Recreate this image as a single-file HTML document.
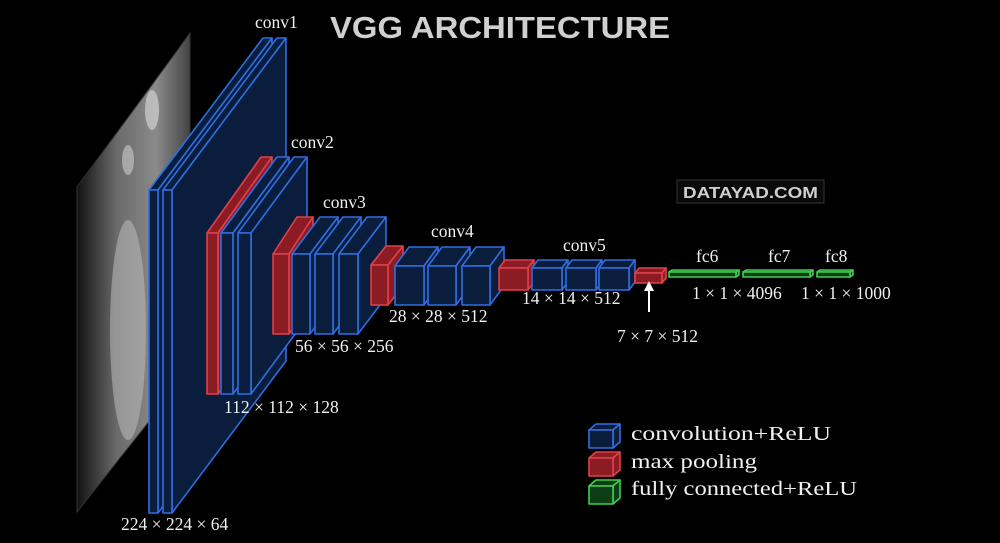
<!DOCTYPE html>
<html><head><meta charset="utf-8">
<style>
html,body{margin:0;padding:0;background:#000;}
svg{display:block;}
.lbl{font-family:"Liberation Serif",serif;font-size:17.5px;fill:#f0f0f0;}
.leg{font-family:"Liberation Serif",serif;font-size:20px;fill:#f0f0f0;}
</style></head>
<body>
<svg id="s" width="1000" height="543" viewBox="0 0 1000 543" xmlns="http://www.w3.org/2000/svg">
<defs>
<linearGradient id="img" x1="0" y1="0" x2="1" y2="0">
<stop offset="0" stop-color="#111"/><stop offset="0.35" stop-color="#6a6a6a"/><stop offset="0.7" stop-color="#8a8a8a"/><stop offset="1" stop-color="#444"/>
</linearGradient>
</defs>
<rect width="1000" height="543" fill="#000"/>
<polygon points="77,187 190,33 190,370 77,512" fill="url(#img)" stroke="#333" stroke-width="1"/>
<ellipse cx="128" cy="330" rx="18" ry="110" fill="#bbb" opacity="0.55"/>
<ellipse cx="152" cy="110" rx="7" ry="20" fill="#ddd" opacity="0.6"/>
<ellipse cx="128" cy="160" rx="6" ry="15" fill="#ddd" opacity="0.5"/>
<g id="g"></g>
<text x="330" y="38" textLength="340" lengthAdjust="spacingAndGlyphs" style="font-family:'Liberation Sans',sans-serif;font-weight:bold;font-size:31px;fill:#d0d0d0;">VGG ARCHITECTURE</text>
<rect x="677" y="180" width="147" height="23" fill="#0a0a0a" stroke="#333" stroke-width="1"/>
<text x="683" y="198" textLength="135" lengthAdjust="spacingAndGlyphs" style="font-family:'Liberation Sans',sans-serif;font-weight:bold;font-size:16px;fill:#cfcfcf;">DATAYAD.COM</text>
<text class="lbl" x="255" y="28">conv1</text>
<text class="lbl" x="291" y="148">conv2</text>
<text class="lbl" x="323" y="208">conv3</text>
<text class="lbl" x="431" y="237">conv4</text>
<text class="lbl" x="563" y="251">conv5</text>
<text class="lbl" x="696" y="262">fc6</text>
<text class="lbl" x="768" y="262">fc7</text>
<text class="lbl" x="825" y="262">fc8</text>
<text class="lbl" x="121" y="530">224 × 224 × 64</text>
<text class="lbl" x="224" y="413">112 × 112 × 128</text>
<text class="lbl" x="295" y="352">56 × 56 × 256</text>
<text class="lbl" x="389" y="322">28 × 28 × 512</text>
<text class="lbl" x="522" y="304">14 × 14 × 512</text>
<text class="lbl" x="617" y="342">7 × 7 × 512</text>
<text class="lbl" x="692" y="299">1 × 1 × 4096</text>
<text class="lbl" x="801" y="299">1 × 1 × 1000</text>
<line x1="649" y1="312" x2="649" y2="287" stroke="#fff" stroke-width="2"/>
<polygon points="649,281 644,291 654,291" fill="#fff"/>
<text class="leg" x="631" y="440" textLength="200" lengthAdjust="spacingAndGlyphs">convolution+ReLU</text>
<text class="leg" x="631" y="468" textLength="126" lengthAdjust="spacingAndGlyphs">max pooling</text>
<text class="leg" x="631" y="495" textLength="226" lengthAdjust="spacingAndGlyphs">fully connected+ReLU</text>
</svg>
<script>
var g=document.getElementById('g');
var C={b:['#0b1d3d','#2f6ee0'],r:['#8c1c24','#e0404a'],gr:['#0d3d14','#3fcf50']};
function P(pts,f,s){var p=document.createElementNS('http://www.w3.org/2000/svg','polygon');p.setAttribute('points',pts.map(function(a){return a.join(',')}).join(' '));p.setAttribute('fill',f);p.setAttribute('stroke',s);p.setAttribute('stroke-width','1.6');p.setAttribute('stroke-linejoin','round');g.appendChild(p);}
function cube(x,y,w,h,dx,dy,c){var f=C[c][0],s=C[c][1];
P([[x,y],[x+dx,y+dy],[x+w+dx,y+dy],[x+w,y]],f,s);
P([[x+w,y],[x+w+dx,y+dy],[x+w+dx,y+h+dy],[x+w,y+h]],f,s);
P([[x,y],[x+w,y],[x+w,y+h],[x,y+h]],f,s);}
cube(149,190,9,323,114,-152,'b');
cube(163,190,9,323,114,-152,'b');
cube(207,233,11,161,54,-76,'r');
cube(221,233,12,161,56,-76,'b');
cube(238,233,13,161,56,-76,'b');
cube(273,254,16,80,24,-37,'r');
cube(292,254,18,80,28,-37,'b');
cube(315,254,18,80,28,-37,'b');
cube(339,254,19,80,28,-37,'b');
cube(371,265,17,40,15,-19,'r');
cube(395,266,29,39,14,-19,'b');
cube(428,266,28,39,14,-19,'b');
cube(462,266,28,39,14,-19,'b');
cube(499,268,29,22,6,-8,'r');
cube(532,268,30,22,6,-8,'b');
cube(566,268,30,22,6,-8,'b');
cube(599,268,30,22,6,-8,'b');
cube(635,273,27,10,4,-5,'r');
cube(669,272,67,5,3,-2,'gr');
cube(743,272,67,5,3,-2,'gr');
cube(817,272,33,5,3,-2,'gr');
cube(589,430,24,18,7,-6,'b');
cube(589,458,24,18,7,-6,'r');
cube(589,486,24,18,7,-6,'gr');
</script>
</body></html>
